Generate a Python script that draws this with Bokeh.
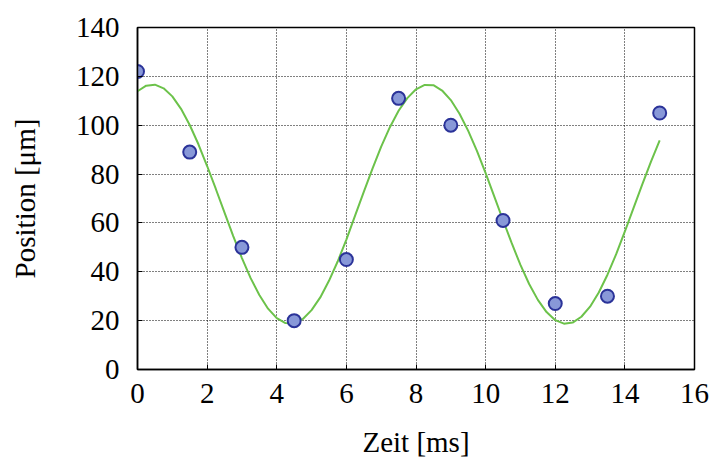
from bokeh.plotting import figure
from bokeh.embed import file_html
from bokeh.resources import INLINE
from bokeh.models import FixedTicker, Range1d

# measured data points
t_ms = [0.0, 1.5, 3.0, 4.5, 6.0, 7.5, 9.0, 10.5, 12.0, 13.5, 15.0]
pos_um = [122, 89, 50, 20, 45, 111, 100, 61, 27, 30, 105]

# fitted curve at 0.25 ms steps
fit_t = [i * 0.25 for i in range(61)]
fit_pos = [113.9, 116.2, 116.6, 115.1, 111.8, 106.7, 100.1, 92.2, 83.3, 73.9,
           64.2, 54.6, 45.6, 37.4, 30.5, 24.9, 21.0, 19.0, 18.9, 20.7,
           24.3, 29.5, 36.3, 44.2, 53.2, 63.0, 72.7, 82.2, 91.2, 99.2,
           105.9, 111.1, 114.7, 116.5, 116.4, 114.2, 110.3, 104.7, 97.7, 89.5,
           80.4, 70.8, 61.1, 51.7, 42.8, 35.0, 28.5, 23.5, 20.2, 18.75,
           19.2, 21.6, 25.7, 31.5, 38.8, 47.2, 56.5, 66.2, 75.8, 85.1, 93.8]

x_ticks = [0, 2, 4, 6, 8, 10, 12, 14, 16]
y_ticks = [0, 20, 40, 60, 80, 100, 120, 140]

FONT = "Liberation Serif"

p = figure(width=716, height=465, output_backend="svg", toolbar_location=None,
           x_range=Range1d(0, 16), y_range=Range1d(0, 140),
           min_border_left=137, min_border_right=22, min_border_top=27, min_border_bottom=96)

p.line(fit_t, fit_pos, line_color="#6cc24a", line_width=2)
p.scatter(t_ms, pos_um, size=13, fill_color="#8898d8", line_color="#2b3399", line_width=2)

p.xaxis.ticker = FixedTicker(ticks=x_ticks)
p.yaxis.ticker = FixedTicker(ticks=y_ticks)
for ax in (p.xaxis[0], p.yaxis[0]):
    ax.major_label_text_font = FONT
    ax.major_label_text_font_size = "29px"
    ax.major_label_text_color = "black"
    ax.axis_label_text_font = FONT
    ax.axis_label_text_font_size = "29px"
    ax.axis_label_text_font_style = "normal"
    ax.axis_label_text_color = "black"
    ax.axis_line_color = "black"
    ax.axis_line_width = 1.5
    ax.major_tick_in = 5
    ax.major_tick_out = 0
    ax.major_tick_line_color = "black"
    ax.minor_tick_line_color = None
p.xaxis.axis_label = "Zeit [ms]"
p.yaxis.axis_label = "Position [μm]"
p.xaxis.major_label_standoff = 14
p.yaxis.major_label_standoff = 18
p.xaxis.axis_label_standoff = 20
p.yaxis.axis_label_standoff = 32

p.grid.grid_line_color = "black"
p.grid.grid_line_dash = "1 2"
p.grid.grid_line_width = 1
p.outline_line_color = "black"
p.outline_line_width = 1.5

open("out.html", "w").write(file_html(p, INLINE))
